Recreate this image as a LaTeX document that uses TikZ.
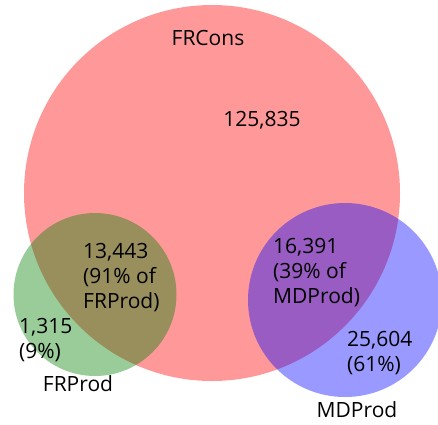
\documentclass[tikz,border=0pt]{standalone}
\usepackage{fontspec}
\setmainfont{Open Sans}
\begin{document}
\begin{tikzpicture}[x=1pt,y=-1pt,
  setc/.style={opacity=0.4},
  lbl/.style={inner sep=0pt,font=\fontsize{21}{25}\selectfont,align=left,text=black}]
\useasboundingbox (0,0) rectangle (438,424);
\clip (0,0) rectangle (438,424);
\fill[red,setc] (212,193) circle[radius=188];
\fill[green!50!black,setc] (95,294.5) circle[radius=81.5];
\fill[blue,setc] (345,300) circle[radius=97];
\node[lbl,anchor=center] (frcons) at (208,38) {FRCons};
\node[lbl,anchor=center] (a) at (262,120) {125,835};
\node[lbl,anchor=west] (ab) at (83,278) {13,443\\(91\% of\\FRProd)};
\node[lbl,anchor=west] (b) at (19,340) {1,315\\(9\%)};
\node[lbl,anchor=center] (frprod) at (78,384) {FRProd};
\node[lbl,anchor=west] (ac) at (273,273) {16,391\\(39\% of\\MDProd)};
\node[lbl,anchor=west] (c) at (347,353) {25,604\\(61\%)};
\node[lbl,anchor=center] (mdprod) at (357,410) {MDProd};
\end{tikzpicture}
\end{document}
